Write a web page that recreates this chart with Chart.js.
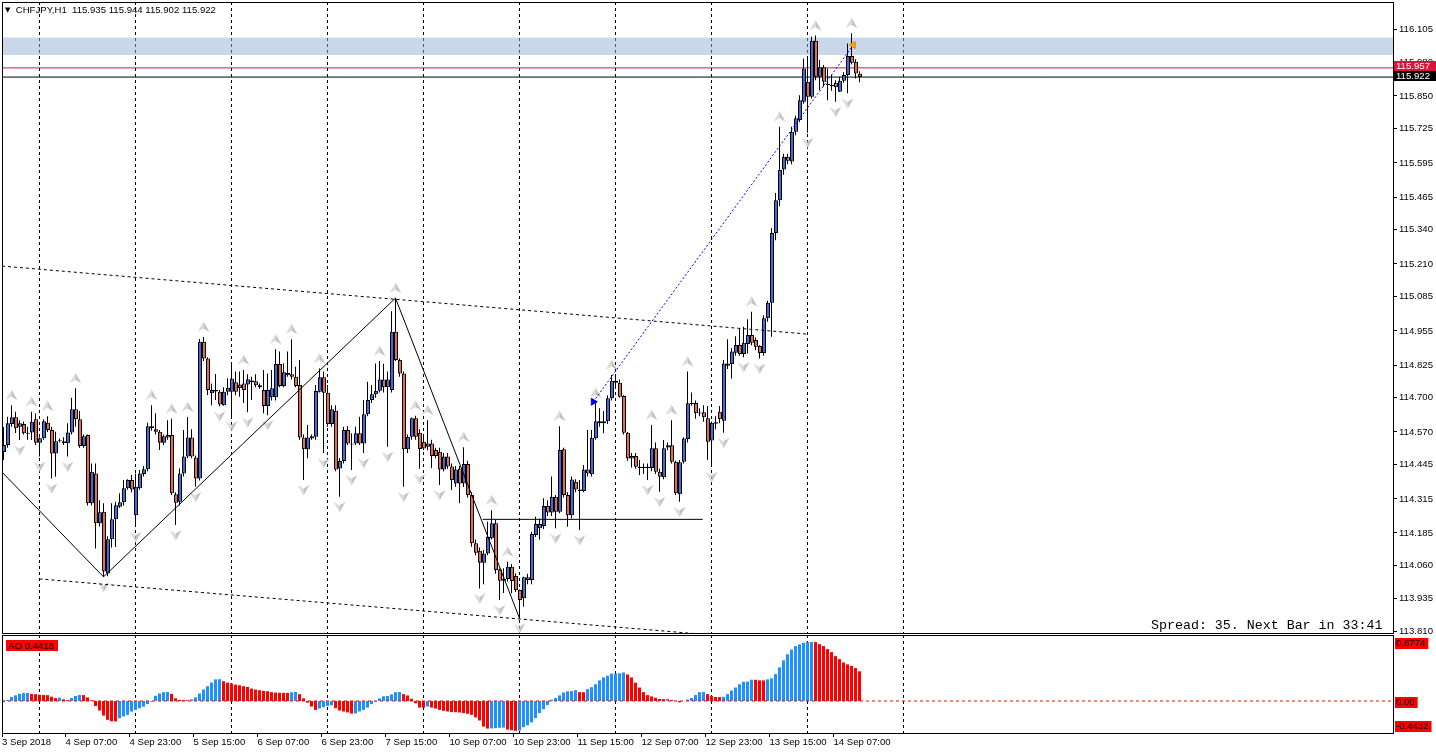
<!DOCTYPE html>
<html><head><meta charset="utf-8">
<script src="https://cdn.jsdelivr.net/npm/chart.js@4.4.1/dist/chart.umd.min.js"></script>
<style>
html,body{margin:0;padding:0;background:#fff;}
#wrap{position:relative;width:1436px;height:754px;overflow:hidden;background:#fff;}
canvas{position:absolute;left:0;}
#main{top:0;}
#ao{top:634px;}
.txt{position:absolute;font-family:"Liberation Sans",Arial,sans-serif;font-size:9.6px;color:#000;white-space:pre;line-height:11px;}
</style></head><body>
<div id="wrap">
<canvas id="main" width="1436" height="635"></canvas>
<canvas id="ao" width="1436" height="120"></canvas>
<div class="txt" id="title" style="left:5px;top:4px;"></div>
<div class="txt" id="spread" style="left:1151px;top:619px;font-family:'Liberation Mono','Courier New',monospace;font-size:13.3px;line-height:14px;"></div>
<div class="txt" id="aolab" style="left:6px;top:640px;height:11px;padding:0 4px 0 2px;background:#ff0000;"></div>
</div>
<script>
// ---------------- data ----------------
const symbol = 'CHFJPY,H1';
const spreadPoints = 35;
const nextBar = '33:41';
const timeLabels = ['3 Sep 2018','4 Sep 07:00','4 Sep 23:00','5 Sep 15:00','6 Sep 07:00','6 Sep 23:00','7 Sep 15:00','10 Sep 07:00','10 Sep 23:00','11 Sep 15:00','12 Sep 07:00','12 Sep 23:00','13 Sep 15:00','14 Sep 07:00'];
const labelBars = [0,16,32,48,64,80,96,112,128,144,160,176,192,208];
const midnightBars = [9,33,57,81,105,129,153,177,201,225];
const priceTicks = [116.105,115.980,115.850,115.725,115.595,115.465,115.340,115.210,115.085,114.955,114.825,114.700,114.570,114.445,114.315,114.185,114.060,113.935,113.810];

const open = [
114.494,114.520,114.600,114.626,114.590,114.600,114.567,114.568,114.618,114.529,
114.546,114.605,114.577,114.488,114.535,114.535,114.527,114.568,114.656,114.618,
114.516,114.558,114.298,114.412,114.222,114.266,114.031,114.161,114.237,114.285,
114.302,114.355,114.387,114.253,114.355,114.410,114.428,114.592,114.580,114.571,
114.529,114.549,114.558,114.333,114.304,114.412,114.476,114.549,114.473,114.393,
114.914,114.850,114.717,114.730,114.723,114.672,114.723,114.723,114.759,114.736,
114.755,114.751,114.766,114.763,114.748,114.730,114.669,114.702,114.702,114.829,
114.745,114.795,114.790,114.780,114.749,114.549,114.504,114.545,114.552,114.723,
114.778,114.719,114.600,114.651,114.431,114.459,114.577,114.526,114.526,114.565,
114.526,114.637,114.692,114.714,114.727,114.770,114.740,114.730,114.952,114.844,
114.793,114.504,114.552,114.622,114.567,114.533,114.514,114.526,114.501,114.495,
114.427,114.476,114.438,114.374,114.431,114.374,114.448,114.330,114.146,114.117,
114.072,114.107,114.165,114.222,114.046,114.003,114.010,114.056,114.021,113.968,
113.936,114.016,114.006,114.177,114.203,114.212,114.288,114.263,114.323,114.266,
114.504,114.330,114.253,114.380,114.351,114.345,114.427,114.409,114.546,114.611,
114.603,114.611,114.698,114.765,114.757,114.707,114.567,114.469,114.478,114.437,
114.433,114.437,114.433,114.508,114.418,114.397,114.511,114.519,114.456,114.333,
114.456,114.543,114.680,114.680,114.643,114.645,114.622,114.537,114.607,114.647,
114.613,114.831,114.829,114.872,114.901,114.867,114.905,114.939,114.920,114.897,
114.871,115.003,115.062,115.328,115.453,115.570,115.618,115.600,115.714,115.758,
115.828,115.904,115.847,116.060,115.923,115.959,115.895,115.892,115.900,115.866,
115.908,115.930,116.002,115.980,115.935];
const high = [
114.589,114.628,114.672,114.647,114.615,114.610,114.590,114.647,114.640,114.550,
114.618,114.630,114.590,114.571,114.545,114.550,114.603,114.700,114.736,114.650,
114.560,114.560,114.450,114.450,114.310,114.298,114.173,114.298,114.304,114.336,
114.387,114.390,114.406,114.412,114.425,114.440,114.605,114.672,114.641,114.577,
114.560,114.615,114.620,114.340,114.431,114.577,114.627,114.580,114.480,114.924,
114.932,114.855,114.755,114.791,114.730,114.740,114.775,114.825,114.800,114.800,
114.806,114.790,114.780,114.790,114.755,114.806,114.793,114.806,114.885,114.876,
114.831,114.876,114.923,114.818,114.844,114.560,114.596,114.560,114.749,114.812,
114.800,114.749,114.672,114.672,114.470,114.590,114.592,114.565,114.590,114.628,
114.692,114.761,114.749,114.831,114.840,114.830,114.800,115.030,115.080,114.850,
114.800,114.560,114.625,114.632,114.580,114.560,114.615,114.540,114.510,114.510,
114.490,114.490,114.450,114.440,114.440,114.512,114.460,114.340,114.160,114.130,
114.120,114.228,114.272,114.235,114.050,114.051,114.075,114.067,114.031,113.970,
114.018,114.030,114.190,114.247,114.240,114.317,114.310,114.400,114.330,114.592,
114.510,114.340,114.400,114.390,114.387,114.444,114.577,114.577,114.680,114.660,
114.650,114.710,114.787,114.782,114.770,114.710,114.570,114.490,114.490,114.463,
114.450,114.450,114.596,114.530,114.430,114.539,114.530,114.615,114.460,114.463,
114.550,114.800,114.720,114.690,114.660,114.672,114.669,114.610,114.630,114.669,
114.844,114.923,114.890,114.935,114.965,114.971,114.999,115.028,114.930,114.900,
115.015,115.070,115.347,115.480,115.733,115.630,115.630,115.733,115.775,115.853,
115.993,115.993,116.076,116.080,115.987,115.968,115.955,115.930,115.910,115.923,
115.940,116.050,116.089,115.990,115.944];
const low = [
114.463,114.510,114.590,114.566,114.539,114.560,114.540,114.539,114.520,114.476,
114.540,114.570,114.393,114.399,114.530,114.520,114.476,114.560,114.590,114.510,
114.510,114.290,114.290,114.126,114.210,114.018,114.020,114.130,114.132,114.280,
114.290,114.350,114.340,114.209,114.350,114.400,114.420,114.575,114.560,114.501,
114.520,114.540,114.330,114.215,114.290,114.400,114.470,114.470,114.361,114.385,
114.840,114.711,114.672,114.692,114.668,114.670,114.710,114.630,114.710,114.704,
114.680,114.645,114.692,114.740,114.735,114.641,114.634,114.690,114.690,114.740,
114.740,114.780,114.770,114.740,114.540,114.387,114.470,114.540,114.540,114.720,
114.490,114.590,114.590,114.420,114.323,114.450,114.520,114.425,114.520,114.520,
114.490,114.630,114.680,114.700,114.720,114.720,114.514,114.720,114.840,114.780,
114.361,114.490,114.540,114.540,114.430,114.500,114.500,114.432,114.470,114.368,
114.420,114.430,114.349,114.360,114.298,114.360,114.320,114.133,114.100,113.974,
113.990,114.100,114.160,114.030,113.930,113.956,114.000,113.955,113.960,113.860,
113.904,113.990,113.990,114.170,114.160,114.200,114.250,114.250,114.203,114.260,
114.320,114.209,114.240,114.340,114.196,114.340,114.400,114.400,114.540,114.590,
114.565,114.600,114.690,114.740,114.700,114.560,114.460,114.435,114.430,114.406,
114.410,114.387,114.420,114.410,114.342,114.390,114.500,114.450,114.330,114.304,
114.450,114.530,114.670,114.620,114.630,114.609,114.463,114.437,114.580,114.603,
114.567,114.810,114.774,114.860,114.860,114.855,114.869,114.900,114.882,114.850,
114.860,114.990,114.933,115.300,115.430,115.550,115.590,115.590,115.700,115.750,
115.820,115.710,115.840,115.910,115.873,115.885,115.834,115.870,115.828,115.865,
115.900,115.860,115.970,115.917,115.902];
const close = [
114.520,114.603,114.626,114.584,114.603,114.565,114.563,114.609,114.529,114.546,
114.611,114.577,114.488,114.535,114.537,114.528,114.568,114.656,114.618,114.516,
114.554,114.298,114.418,114.222,114.264,114.038,114.161,114.237,114.291,114.302,
114.355,114.387,114.351,114.361,114.412,114.428,114.592,114.584,114.571,114.529,
114.554,114.558,114.336,114.300,114.412,114.476,114.549,114.476,114.393,114.914,
114.850,114.730,114.730,114.724,114.675,114.723,114.738,114.774,114.723,114.751,
114.730,114.771,114.759,114.748,114.740,114.669,114.730,114.736,114.829,114.745,
114.797,114.786,114.780,114.745,114.549,114.504,114.549,114.554,114.726,114.778,
114.719,114.600,114.656,114.427,114.459,114.577,114.526,114.522,114.565,114.526,
114.637,114.692,114.714,114.727,114.770,114.740,114.770,114.952,114.844,114.793,
114.504,114.552,114.622,114.552,114.505,114.507,114.526,114.478,114.478,114.427,
114.476,114.438,114.387,114.427,114.374,114.448,114.330,114.146,114.110,114.072,
114.107,114.171,114.222,114.044,114.003,114.010,114.056,114.002,113.968,113.930,
114.016,114.006,114.181,114.219,114.219,114.288,114.263,114.323,114.266,114.501,
114.330,114.253,114.389,114.351,114.345,114.427,114.412,114.548,114.611,114.603,
114.611,114.698,114.765,114.757,114.704,114.567,114.469,114.478,114.437,114.433,
114.437,114.433,114.508,114.418,114.399,114.508,114.519,114.456,114.336,114.455,
114.545,114.679,114.676,114.641,114.640,114.626,114.533,114.605,114.601,114.618,
114.831,114.822,114.876,114.901,114.867,114.910,114.939,114.910,114.895,114.871,
115.003,115.062,115.328,115.453,115.568,115.618,115.603,115.714,115.765,115.834,
115.955,115.847,116.060,115.923,115.959,115.904,115.892,115.887,115.883,115.908,
115.930,116.002,115.977,115.936,115.922];

const ao = [
-0.020,0.015,0.060,0.085,0.107,0.117,0.119,0.104,0.102,0.094,
0.089,0.087,0.064,0.045,0.050,0.025,0.012,0.045,0.074,0.090,
0.088,0.054,0.010,-0.074,-0.142,-0.217,-0.280,-0.302,-0.304,-0.256,
-0.230,-0.206,-0.157,-0.133,-0.108,-0.084,-0.045,-0.012,0.078,0.112,
0.131,0.133,0.107,0.039,0.016,0.014,0.010,0.024,0.054,0.112,
0.171,0.220,0.275,0.322,0.324,0.293,0.273,0.259,0.244,0.234,
0.220,0.210,0.185,0.171,0.161,0.151,0.146,0.132,0.125,0.123,
0.122,0.121,0.130,0.134,0.102,0.039,-0.024,-0.083,-0.132,-0.112,
-0.093,-0.073,-0.063,-0.107,-0.141,-0.156,-0.170,-0.187,-0.185,-0.156,
-0.132,-0.098,-0.044,-0.010,0.039,0.070,0.075,0.098,0.131,0.133,
0.102,0.083,0.034,-0.034,-0.098,-0.099,-0.083,-0.098,-0.112,-0.132,
-0.146,-0.156,-0.165,-0.167,-0.171,-0.180,-0.190,-0.205,-0.244,-0.290,
-0.380,-0.410,-0.408,-0.403,-0.398,-0.396,-0.425,-0.435,-0.4432,-0.440,
-0.390,-0.361,-0.317,-0.254,-0.180,-0.122,-0.059,0.020,0.044,0.083,
0.127,0.144,0.146,0.161,0.132,0.131,0.176,0.205,0.249,0.307,
0.351,0.376,0.408,0.410,0.412,0.424,0.395,0.351,0.273,0.200,
0.132,0.088,0.068,0.049,0.030,0.028,0.029,0.015,0.003,-0.020,
0.002,0.020,0.044,0.088,0.131,0.133,0.102,0.073,0.060,0.058,
0.063,0.102,0.156,0.200,0.249,0.286,0.288,0.317,0.316,0.307,
0.306,0.322,0.337,0.400,0.500,0.605,0.695,0.765,0.817,0.842,
0.866,0.875,0.8774,0.876,0.846,0.817,0.772,0.727,0.668,0.623,
0.573,0.545,0.522,0.490,0.4418];

const fractalUp = [2,7,11,18,37,42,46,50,60,68,72,79,94,98,103,106,115,122,126,139,148,152,162,167,171,187,194,203,212];
const fractalDown = [4,9,12,16,25,33,43,48,54,57,61,66,75,80,84,87,90,96,100,104,109,119,124,129,138,144,161,164,169,177,180,185,189,201,208,211];

// chart objects: [bar, price]
const zigzag = [[-0.375,114.417],[25,114.018],[98,115.080],[129,113.860]];
const channelUpper = [[-0.375,115.202],[200.8,114.943]];
const channelLower = [[9,114.010],[173.4,113.801]];
const levelLine = [[119.8,114.237],[174.8,114.237]];
const trendLine = [[147.45,114.685],[212.45,116.044]];
const zone = [116.006,116.073];

// ---------------- setup ----------------
const FONT = '"Liberation Sans", Arial, sans-serif';
const X_MIN = -0.375, X_MAX = 347.375;
const Y_MIN = 113.804, Y_MAX = 116.208;
const AO_MIN = -0.4759, AO_MAX = 0.9815;
const BODY_SHIFT = 0.125; // half a pixel, keeps 4px bodies on whole pixels
const UP = '#4169e1', DOWN = '#e8694f';
const AO_UP = '#1e90ff', AO_DOWN = '#ff0000';
const n = close.length;
const bid = close[n-1];
const ask = +(bid + spreadPoints/1000).toFixed(3);
const pts = a => a.map(p => ({x:p[0], y:p[1]}));
const full = v => [{x:X_MIN,y:v},{x:X_MAX,y:v}];

document.getElementById('title').innerHTML = '<span style="font-family:\'DejaVu Sans\';font-size:7px;position:relative;top:-1px;">\u25BC</span>  ' +
  symbol + '  ' + [open[n-1],high[n-1],low[n-1],close[n-1]].map(v=>v.toFixed(3)).join(' ');
document.getElementById('spread').textContent = 'Spread: ' + spreadPoints + '. Next Bar in ' + nextBar;
document.getElementById('aolab').textContent = 'AO ' + ao[ao.length-1].toFixed(4);

function makeArrow(up){
  const c = document.createElement('canvas'); c.width = 13; c.height = 32;
  const g = c.getContext('2d');
  if (!up) { g.translate(0, 32); g.scale(1, -1); }
  g.fillStyle = '#dcdcdc';
  g.beginPath(); g.moveTo(6.5,0.5); g.lineTo(6.5,7.5); g.lineTo(0.5,11); g.closePath(); g.fill();
  g.fillStyle = '#c2c2c2';
  g.beginPath(); g.moveTo(6.5,0.5); g.lineTo(12.5,11); g.lineTo(6.5,7.5); g.closePath(); g.fill();
  return c;
}
const arrowUp = makeArrow(true), arrowDown = makeArrow(false);

const framePlugin = { id:'frame', afterDraw(chart){
  const {ctx, chartArea:a} = chart; ctx.save(); ctx.strokeStyle='#000'; ctx.lineWidth=1;
  ctx.strokeRect(a.left+0.5, a.top+0.5, a.right-a.left, a.bottom-a.top); ctx.restore(); } };

const tagPlugin = { id:'tags', afterDraw(chart){
  const ys = chart.scales.y, ctx = chart.ctx; ctx.save();
  ctx.font = '9.6px ' + FONT; ctx.textBaseline = 'middle';
  [[ask,'#dc143c',-7],[bid,'#000000',-6]].forEach(([v,c,off])=>{
    const py = Math.round(ys.getPixelForValue(v));
    ctx.fillStyle = c; ctx.fillRect(1394, py+off, 42, 10);
    ctx.fillStyle = '#fff'; ctx.fillText(v.toFixed(3), 1396, py+off+5.5);
  });
  ctx.restore(); } };

const aoTagPlugin = { id:'aotags', afterDraw(chart){
  const ys = chart.scales.y, a = chart.chartArea, ctx = chart.ctx; ctx.save();
  ctx.font = '9.6px ' + FONT; ctx.textBaseline = 'middle';
  const lv = [[Math.max(...ao), 4], [0, 2], [Math.min(...ao), 4]];
  lv.forEach(([v,d])=>{
    const t = v === 0 ? '0.00' : v.toFixed(d);
    const py = Math.round(ys.getPixelForValue(v));
    let top = py - 4; if (top + 11 > a.bottom) top = a.bottom - 12;
    const w = ctx.measureText(t).width + 4;
    ctx.fillStyle = '#ff0000'; ctx.fillRect(1395, top, w, 11);
    ctx.fillStyle = '#000'; ctx.fillText(t, 1396, top + 5.5);
  });
  ctx.restore(); } };

const idx = close.map((_,i)=>i);
const common = {responsive:false, animation:false, events:[],
  plugins:{legend:{display:false}, tooltip:{enabled:false}}};

new Chart(document.getElementById('main'), {
  type:'bar',
  data:{datasets:[
    {type:'line', data:full(zone[1]), fill:{value:zone[0]}, backgroundColor:'rgba(148,176,213,0.5)', borderWidth:0, pointRadius:0, order:9},
    {type:'line', data:idx.filter(i=>fractalUp.includes(i)).map(i=>({x:i,y:high[i]})), showLine:false, pointStyle:arrowUp, pointRadius:6, order:8},
    {type:'line', data:idx.filter(i=>fractalDown.includes(i)).map(i=>({x:i,y:low[i]})), showLine:false, pointStyle:arrowDown, pointRadius:6, order:8},
    {type:'line', data:full(ask), borderColor:'#dc143c', borderWidth:1, pointRadius:0, order:7},
    {type:'line', data:full(bid), borderColor:'#000', borderWidth:1, pointRadius:0, order:7},
    {type:'bar', data:idx.map(i=>({x:i,y:[low[i],high[i]]})), backgroundColor:'#000', borderWidth:0, barThickness:1, grouped:false, inflateAmount:0, order:5},
    {type:'bar', data:idx.map(i=>({x:i+BODY_SHIFT,y:[Math.min(open[i],close[i]),Math.max(open[i],close[i])]})),
      backgroundColor:idx.map(i=>close[i]>=open[i]?UP:DOWN), borderColor:'#000', borderWidth:1, borderSkipped:false,
      barThickness:4, grouped:false, inflateAmount:0, minBarLength:1, order:4},
    {type:'line', data:pts(zigzag), borderColor:'#000', borderWidth:1, pointRadius:0, order:2},
    {type:'line', data:pts(channelUpper), borderColor:'#000', borderWidth:1, borderDash:[3,3], pointRadius:0, order:2},
    {type:'line', data:pts(channelLower), borderColor:'#000', borderWidth:1, borderDash:[3,3], pointRadius:0, order:2},
    {type:'line', data:pts(levelLine), borderColor:'#000', borderWidth:1, pointRadius:0, order:2},
    {type:'line', data:pts(trendLine), borderColor:'#0000ff', borderWidth:1, borderDash:[2,2], pointRadius:0, order:1},
    {type:'line', data:pts([trendLine[0]]), showLine:false, pointStyle:'triangle', rotation:90, pointRadius:4, backgroundColor:'#0000ff', borderColor:'#0000ff', order:0},
    {type:'line', data:pts([trendLine[1]]), showLine:false, pointStyle:'triangle', rotation:-90, pointRadius:4, backgroundColor:'#ffa500', borderColor:'#e08a00', order:0}
  ]},
  options:Object.assign({}, common, {
    layout:{autoPadding:false, padding:{left:2, top:2, right:0, bottom:2}},
    scales:{
      x:{type:'linear', min:X_MIN, max:X_MAX, offset:false,
        afterBuildTicks:s=>{ s.ticks = midnightBars.map(v=>({value:v})); },
        ticks:{display:false}, grid:{offset:false, color:'#000', lineWidth:1, drawTicks:false},
        border:{display:false, dash:[3,3]},
        afterFit:s=>{ s.height=0; s.paddingLeft=0; s.paddingRight=0; }},
      y:{type:'linear', position:'right', min:Y_MIN, max:Y_MAX,
        afterBuildTicks:s=>{ s.ticks = priceTicks.map(v=>({value:v})); },
        ticks:{callback:v=>Number(v).toFixed(3), color:'#000', font:{family:FONT, size:9.6}, padding:2, autoSkip:false},
        grid:{drawOnChartArea:false, drawTicks:true, tickLength:4, tickColor:'#000'},
        border:{display:true, color:'#000'},
        afterFit:s=>{ s.width=43; s.paddingTop=0; s.paddingBottom=0; }}
    }}),
  plugins:[framePlugin, tagPlugin]
});

new Chart(document.getElementById('ao'), {
  type:'bar',
  data:{datasets:[
    {type:'line', xAxisID:'x', yAxisID:'y', data:full(0), borderColor:'#ff0000', borderWidth:1, borderDash:[3,3], pointRadius:0, order:0},
    {type:'bar', xAxisID:'x', yAxisID:'y', data:ao.map((v,i)=>({x:i,y:v})),
      backgroundColor:ao.map((v,i)=> i===0 || v>ao[i-1] ? AO_UP : AO_DOWN),
      borderWidth:0, barThickness:3, grouped:false, inflateAmount:0, order:1}
  ]},
  options:Object.assign({}, common, {
    layout:{autoPadding:false, padding:{left:2, top:1, right:0, bottom:0}},
    scales:{
      x:{type:'linear', position:'bottom', min:X_MIN, max:X_MAX, offset:false,
        afterBuildTicks:s=>{ s.ticks = labelBars.map(b=>({value:Math.max(X_MIN, b-0.5)})); },
        ticks:{align:'start', autoSkip:false, maxRotation:0, minRotation:0, padding:0, color:'#000',
          font:{family:FONT, size:9.6}, callback:(v,i)=>timeLabels[i]},
        grid:{offset:false, drawOnChartArea:false, drawTicks:true, tickLength:4, tickColor:'#000'},
        border:{display:false},
        afterFit:s=>{ s.height=21; s.paddingLeft=0; s.paddingRight=0; }},
      x2:{type:'linear', position:'bottom', min:X_MIN, max:X_MAX, offset:false,
        afterBuildTicks:s=>{ s.ticks = midnightBars.map(v=>({value:v})); },
        ticks:{display:false}, grid:{offset:false, color:'#000', drawTicks:false},
        border:{display:false, dash:[3,3]},
        afterFit:s=>{ s.height=0; s.paddingLeft=0; s.paddingRight=0; }},
      y:{type:'linear', position:'right', min:AO_MIN, max:AO_MAX,
        ticks:{display:false}, grid:{display:false}, border:{display:false},
        afterFit:s=>{ s.width=43; s.paddingTop=0; s.paddingBottom=0; }}
    }}),
  plugins:[framePlugin, aoTagPlugin]
});
</script>
</body></html>
